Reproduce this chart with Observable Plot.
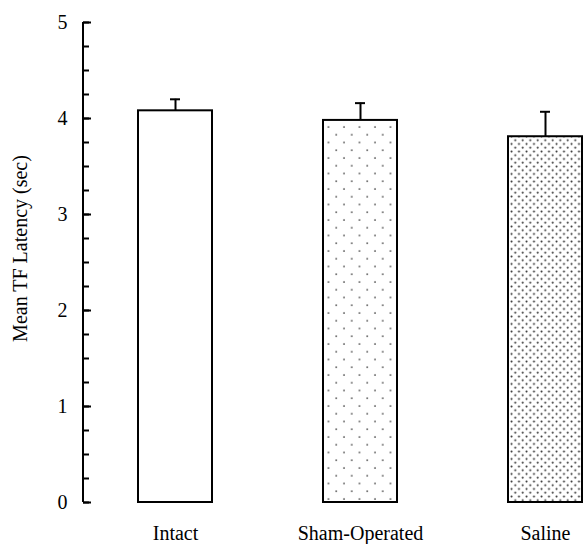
<!DOCTYPE html>
<html><head><meta charset="utf-8">
<script src="https://cdn.jsdelivr.net/npm/d3@7"></script>
<script src="https://cdn.jsdelivr.net/npm/@observablehq/plot@0.6"></script>
<style>body{margin:0;background:#fff}</style>
</head><body><div id="chart"></div>
<script>
const groups = ["Intact", "Sham-Operated", "Saline"];
const means = [4.08, 3.98, 3.81];
const errors = [0.12, 0.18, 0.26];
const yTicks = [0, 1, 2, 3, 4, 5];
const yMinorTicks = [0, 0.25, 0.5, 0.75, 1, 1.25, 1.5, 1.75, 2, 2.25, 2.5, 2.75, 3, 3.25, 3.5, 3.75, 4, 4.25, 4.5, 4.75, 5];
const yLabel = "Mean TF Latency (sec)";

const data = groups.map((g, i) => ({group: g, mean: means[i], err: errors[i]}));
const fillFor = {"Intact": "white", "Sham-Operated": "url(#dotsSparse)", "Saline": "url(#dotsDense)"};

const axisLine = (index, scales, values, dims) => {
  const l = d3.create("svg:line")
    .attr("x1", dims.marginLeft).attr("x2", dims.marginLeft)
    .attr("y1", scales.y(yTicks[yTicks.length - 1])).attr("y2", scales.y(yTicks[0]))
    .attr("stroke", "black").attr("stroke-width", 2);
  return l.node();
};

const svg = Plot.plot({
  width: 583, height: 544,
  marginLeft: 83, marginRight: 0, marginTop: 22, marginBottom: 42,
  style: {fontFamily: "'Liberation Serif', 'Times New Roman', serif", fontSize: "20px", background: "white", color: "black"},
  x: {domain: groups, padding: 0.6, paddingOuter: 0.15, align: 0.98, label: null},
  y: {domain: [0, 5], label: null},
  color: {type: "identity"},
  marks: [
    Plot.barY(data, {x: "group", y: "mean", fill: d => fillFor[d.group], stroke: "black", strokeWidth: 2}),
    Plot.ruleX(data, {x: "group", y1: "mean", y2: d => d.mean + d.err, stroke: "black", strokeWidth: 2}),
    Plot.tickY(data, {x: "group", y: d => d.mean + d.err, stroke: "black", strokeWidth: 2, insetLeft: 32, insetRight: 32}),
    Plot.axisY(yMinorTicks, {tickSize: -6, text: null, strokeWidth: 2}),
    Plot.axisY(yTicks, {tickSize: -8, text: null, strokeWidth: 2}),
    Plot.axisY(yTicks, {tickSize: 0, tickPadding: 16, fontSize: 20, label: null, tickFormat: d3.format("d")}),
    Plot.axisX({tickSize: 0, tickPadding: 23, fontSize: 20, label: null}),
    axisLine,
    Plot.text([yLabel], {text: d => d, frameAnchor: "left", textAnchor: "middle", rotate: -90, dx: -63, dy: -14, fontSize: 20})
  ]
});

const defs = d3.select(svg).insert("defs", ":first-child");
const p1 = defs.append("pattern").attr("id", "dotsSparse").attr("patternUnits", "userSpaceOnUse").attr("width", 15.5).attr("height", 15.5);
p1.append("rect").attr("width", 15.5).attr("height", 15.5).attr("fill", "white");
p1.append("circle").attr("cx", 3).attr("cy", 3).attr("r", 0.9).attr("fill", "#444");
p1.append("circle").attr("cx", 10.75).attr("cy", 10.75).attr("r", 0.9).attr("fill", "#444");
const p2 = defs.append("pattern").attr("id", "dotsDense").attr("patternUnits", "userSpaceOnUse").attr("width", 7.5).attr("height", 7.5);
p2.append("rect").attr("width", 7.5).attr("height", 7.5).attr("fill", "white");
p2.append("circle").attr("cx", 1.5).attr("cy", 1.5).attr("r", 1).attr("fill", "#333");
p2.append("circle").attr("cx", 5.25).attr("cy", 5.25).attr("r", 1).attr("fill", "#333");

document.getElementById("chart").appendChild(svg);
</script>
</body></html>
